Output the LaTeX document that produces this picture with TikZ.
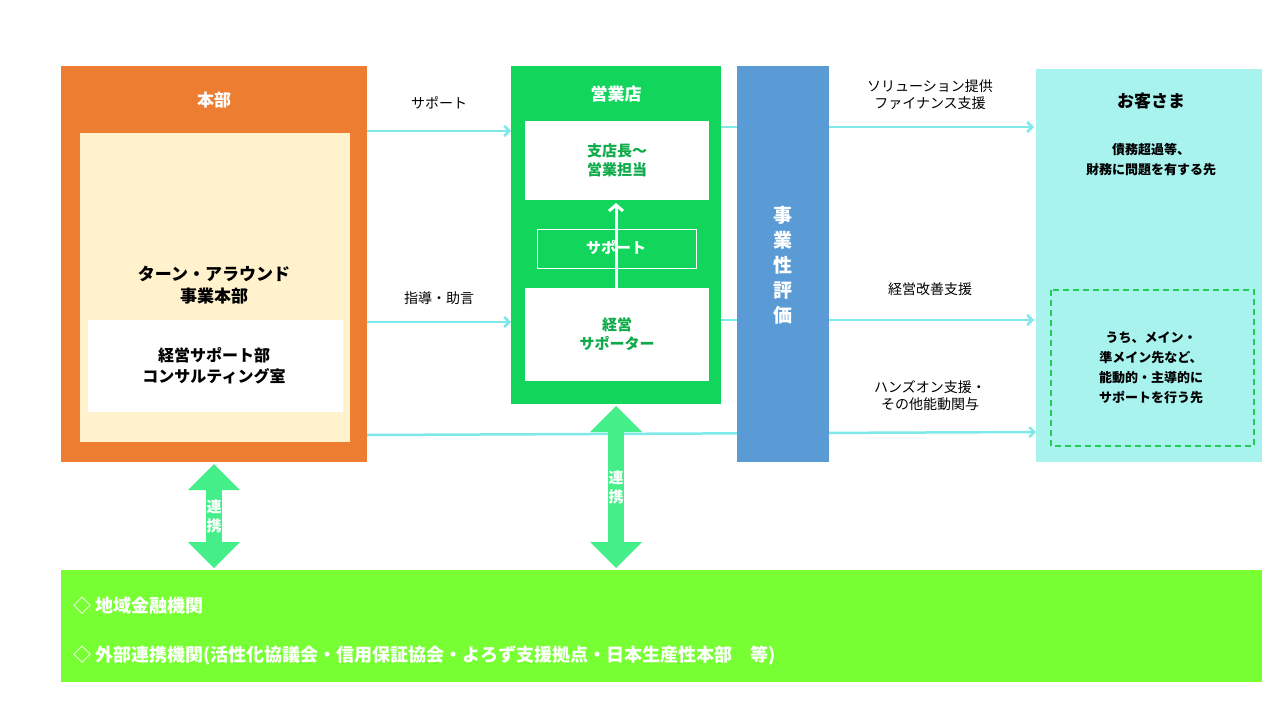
\documentclass[tikz,border=0pt]{standalone}
\usepackage{fontspec}
\setmainfont{Noto Sans CJK JP}
\usetikzlibrary{shapes.arrows,arrows.meta}
\definecolor{org}{HTML}{ED7D31}\definecolor{crm}{HTML}{FFF2CC}
\definecolor{grn}{HTML}{12D65C}\definecolor{blu}{HTML}{5B9BD5}
\definecolor{cyb}{HTML}{A9F3EF}\definecolor{cya}{HTML}{7FE8E8}
\definecolor{lim}{HTML}{77FF33}\definecolor{dgr}{HTML}{22CC55}
\definecolor{mnt}{HTML}{44EE88}
\begin{document}
\begin{tikzpicture}[x=1pt,y=-1pt,
 box/.style={draw=none,minimum width=#1},
 t/.style={font=\bfseries\fontsize{15}{19}\selectfont,align=center},
 s/.style={font=\fontsize{14}{17}\selectfont,align=center},
 con/.style={cya,line width=2.5pt,-{Straight Barb[length=5pt,width=10pt]}},
 dbl/.style={double arrow,fill=mnt,draw=none,double arrow head extend=18pt,shape border rotate=90,minimum width=52pt,inner sep=0pt,font=\bfseries\fontsize{15}{19}\selectfont,text=white,align=center}]
\useasboundingbox (0,0) rectangle (1280,720);
% honbu
\fill[org] (61,66) rectangle (367,462); \fill[crm] (80,133) rectangle (350,442); \fill[white] (88,320) rectangle (343,412);
\node[t,text=white,font=\bfseries\fontsize{17}{20}\selectfont] (hb) at (214,100) {本部};
\node[t,font=\bfseries\fontsize{17}{22}\selectfont] (ta) at (214,285) {ターン・アラウンド\\事業本部};
\node[t,font=\bfseries\fontsize{16}{21}\selectfont] (ks) at (214,366) {経営サポート部\\コンサルティング室};
\coordinate (h1) at (367,131); \coordinate (h2) at (367,322); \coordinate (h3) at (367,435);
% connectors behind
\coordinate (g1) at (511,131); \coordinate (g2) at (511,322);
\coordinate (c1) at (1034,127); \coordinate (c2) at (1034,320); \coordinate (c3) at (1036,432);
\draw[con] (h1)--(g1); \draw[con] (h2)--(g2); \draw[con] (h3)--(c3);
\draw[con] (721,127)--(c1); \draw[con] (721,320)--(c2);
\node[s] at (439,103) {サポート}; \node[s] at (439,298) {指導・助言};
\node[s] at (930,95) {ソリューション提供\\ファイナンス支援};
\node[s] at (930,289) {経営改善支援};
\node[s] at (930,396) {ハンズオン支援・\\その他能動関与};
% eigyoten
\fill[grn] (511,66) rectangle (721,404);
\node[t,text=white,font=\bfseries\fontsize{17}{20}\selectfont] (ey) at (616,94) {営業店};
\fill[white] (525,121) rectangle (709,200); \node[t,text=grn!80!black] (sc) at (617,160) {支店長～\\営業担当};
\draw[white] (537,229) rectangle (696,268); \node[t,text=white] (sp) at (616,247) {サポート};
\fill[white] (525,288) rectangle (709,381); \node[t,text=grn!80!black] (ke) at (617,334) {経営\\サポーター};
\draw[white,line width=3pt,-{Straight Barb[length=6pt,width=14pt]}] (616,268)--(616,203);
\draw[white,line width=3pt] (616,288)--(616,268);
% blue
\fill[blu] (737,66) rectangle (829,462);
\node[t,text=white,font=\bfseries\fontsize{19}{25}\selectfont] (jg) at (783,265) {事\\業\\性\\評\\価};
% customer
\fill[cyb] (1036,69) rectangle (1262,462);
\node[t,font=\bfseries\fontsize{17}{20}\selectfont] (ok) at (1151,101) {お客さま};
\node[t,font=\bfseries\fontsize{13}{20}\selectfont] (sa) at (1151,160) {債務超過等、\\財務に問題を有する先};
\draw[dgr,line width=2pt,dash pattern=on 6pt off 4pt] (1051,290) rectangle (1254,446);
\node[t,font=\bfseries\fontsize{13}{20}\selectfont] (uc) at (1151,368) {うち、メイン・\\準メイン先など、\\能動的・主導的に\\サポートを行う先};
% bottom
\fill[lim] (61,570) rectangle (1262,682);
\node[t,text=white,anchor=west,font=\bfseries\fontsize{18}{22}\selectfont] (b1) at (70,606) {◇ 地域金融機関};
\node[t,text=white,anchor=west,font=\bfseries\fontsize{18}{22}\selectfont] (b2) at (70,656) {◇ 外部連携機関(活性化協議会・信用保証協会・よろず支援拠点・日本生産性本部　等)};
\node[dbl,minimum height=104pt] (r1) at (214,516) {連\\携};
\node[dbl,minimum height=162pt] (r2) at (616,487) {連\\携};
\end{tikzpicture}
\end{document}
